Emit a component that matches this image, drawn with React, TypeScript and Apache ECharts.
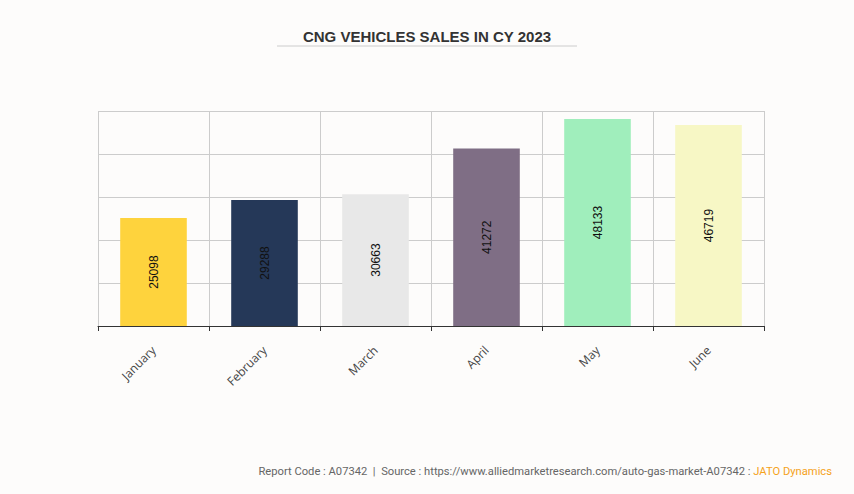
import React, { useEffect, useRef } from "react";
import * as echarts from "echarts";

const categories = ["January", "February", "March", "April", "May", "June"];
const sales = [25098, 29288, 30663, 41272, 48133, 46719];
const barColors = ["#fed33d", "#253858", "#e8e8e8", "#7f6e85", "#a0eebc", "#f7f7c5"];
const titleText = "CNG VEHICLES SALES IN CY 2023";
const footerText = "Report Code : A07342  |  Source : https://www.alliedmarketresearch.com/auto-gas-market-A07342 : ";
const footerBrand = "JATO Dynamics";

export default function App() {
  const ref = useRef<HTMLDivElement>(null);
  useEffect(() => {
    document.body.style.margin = "0";
    const chart = echarts.init(ref.current!, null, { renderer: "svg" });
    chart.setOption({
      animation: false,
      backgroundColor: "#fdfcfb",
      title: {
        text: titleText,
        left: "center",
        top: 24,
        textStyle: { fontFamily: "Liberation Sans", fontSize: 15, fontWeight: "bold", color: "#333" },
      },
      grid: { left: 98, right: 90, top: 111, bottom: 168, containLabel: false },
      xAxis: {
        type: "category",
        data: categories,
        axisLine: { lineStyle: { color: "#333" } },
        axisTick: { show: true, length: 5, lineStyle: { color: "#333" } },
        axisLabel: { rotate: 45, color: "#444", fontSize: 12, fontFamily: "Open Sans", margin: 22 },
        splitLine: { show: true, lineStyle: { color: "#ccc" } },
      },
      yAxis: {
        type: "value",
        min: 0,
        max: 50000,
        interval: 10000,
        axisLabel: { show: false },
        axisLine: { show: false },
        axisTick: { show: false },
        splitLine: { lineStyle: { color: "#ccc" } },
      },
      series: [
        {
          type: "bar",
          barWidth: "60%",
          data: sales.map((v, i) => ({ value: v, itemStyle: { color: barColors[i] } })),
          label: {
            show: true,
            position: "inside",
            rotate: 90,
            color: "#111",
            fontSize: 12,
            fontFamily: "Liberation Sans",
          },
        },
      ],
      graphic: [
        {
          type: "line",
          shape: { x1: 277, y1: 46, x2: 577, y2: 46 },
          style: { stroke: "#ccc", lineWidth: 1 },
        },
        {
          type: "text",
          x: 832,
          y: 471,
          style: {
            text: "{a|" + footerText + "}{b|" + footerBrand + "}",
            align: "right",
            verticalAlign: "middle",
            rich: {
              a: { fill: "#666", fontSize: 11.2, fontFamily: "Roboto" },
              b: { fill: "#f5a21b", fontSize: 11.2, fontFamily: "Roboto" },
            },
          },
        },
      ],
    });
    return () => chart.dispose();
  }, []);
  return <div ref={ref} style={{ width: 854, height: 494 }} />;
}
